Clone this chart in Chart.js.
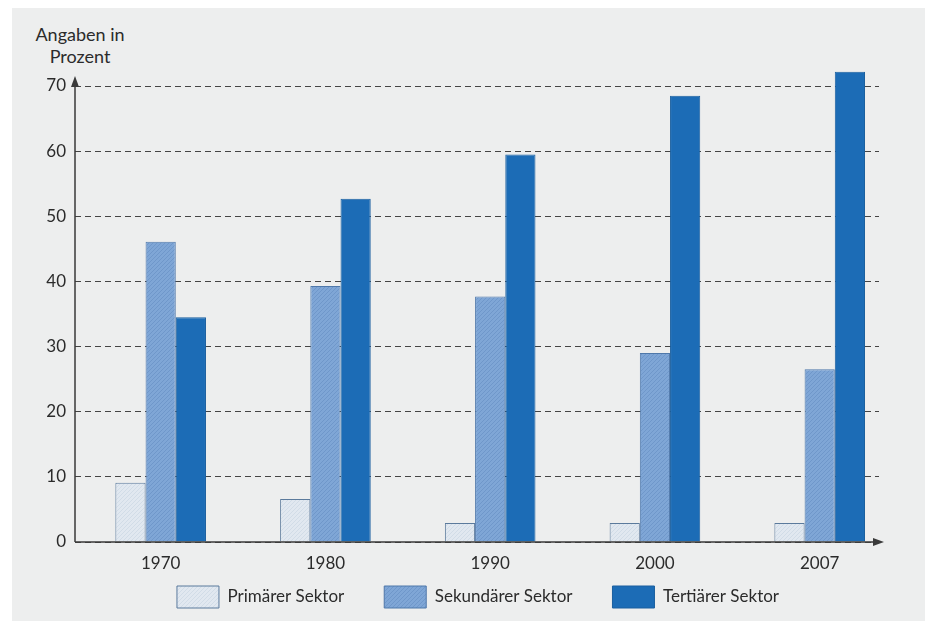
<!DOCTYPE html>
<html>
<head>
<meta charset="utf-8">
<script src="https://cdn.jsdelivr.net/npm/chart.js@4.4.1/dist/chart.umd.min.js"></script>
<style>
  html, body { margin: 0; padding: 0; background: #fff; overflow: hidden; }
  #wrap { position: relative; width: 925px; height: 621px; overflow: hidden; }
  #paper { position: absolute; left: 12px; top: 8px; right: 0; bottom: 0; background: #edeeee; }
  #ytitle { position: absolute; left: 25px; top: 23px; width: 110px; text-align: center;
            font: 18px Lato, sans-serif; color: #2b2b2b; line-height: 22px; }
  #c { position: absolute; left: 0; top: 0; }
</style>
</head>
<body>
<div id="wrap">
  <div id="paper"></div>
  <div id="ytitle">Angaben in<br>Prozent</div>
  <canvas id="c" width="925" height="621"></canvas>
</div>
<script>
// Daten
let years = ["1970", "1980", "1990", "2000", "2007"];
let primaer = [9.1, 6.6, 2.9, 2.9, 2.9];
let sekundaer = [46.1, 39.3, 37.7, 29.0, 26.5];
let tertiaer = [34.5, 52.7, 59.5, 68.5, 72.2];
let seriesNames = ["Primärer Sektor", "Sekundärer Sektor", "Tertiärer Sektor"];
let yTicks = [0, 10, 20, 30, 40, 50, 60, 70];

function hatch(base, line)
{
    let c = document.createElement("canvas");
    c.width = 4; c.height = 4;
    let x = c.getContext("2d");
    x.fillStyle = base;
    x.fillRect(0, 0, 4, 4);
    x.strokeStyle = line;
    x.lineWidth = 0.8;
    x.beginPath();
    x.moveTo(0, 4); x.lineTo(4, 0);
    x.stroke();
    return x.createPattern(c, "repeat");
}

function toPoints(vals)
{
    return vals.map(function (v, i) { return { x: i, y: v }; });
}

// Achsen mit Pfeilspitzen
let axisArrows = {
    id: "axisArrows",
    afterDraw: function (chart) {
        let ctx = chart.ctx;
        let a = chart.chartArea;
        let y0 = chart.scales.y.getPixelForValue(0);
        ctx.save();
        ctx.strokeStyle = "#3a3a3a";
        ctx.fillStyle = "#3a3a3a";
        ctx.lineWidth = 1.5;
        ctx.beginPath();
        ctx.moveTo(a.left, y0); ctx.lineTo(a.right - 2, y0);
        ctx.moveTo(a.left, y0); ctx.lineTo(a.left, a.top - 4);
        ctx.stroke();
        ctx.beginPath();
        ctx.moveTo(a.right + 5, y0); ctx.lineTo(a.right - 6, y0 - 4); ctx.lineTo(a.right - 6, y0 + 4);
        ctx.closePath(); ctx.fill();
        ctx.beginPath();
        ctx.moveTo(a.left, a.top - 10); ctx.lineTo(a.left - 4, a.top + 1); ctx.lineTo(a.left + 4, a.top + 1);
        ctx.closePath(); ctx.fill();
        ctx.restore();
    }
};

// Legende wie im Original etwas nach rechts und unten setzen
let legendPlace = {
    id: "legendPlace",
    afterLayout: function (chart) {
        let lg = chart.legend;
        let pad = lg.options.labels.padding;
        let dx = 478 - (lg.left + lg.right) / 2;
        lg.left += dx; lg.right += dx;
        lg.top = 586 - pad;
        lg.bottom = 621;
        lg.height = lg.bottom - lg.top;
    }
};

let font = { family: "Lato, sans-serif", size: 17 };

let xAC = document.getElementById("c");
new Chart(xAC, {
    type: "bar",
    data: {
        datasets: [{
            label: seriesNames[0],
            data: toPoints(primaer),
            backgroundColor: hatch("#e1e8f0", "#cdd8e5"),
            borderColor: "#5b7a9c",
            borderWidth: 1
        }, {
            label: seriesNames[1],
            data: toPoints(sekundaer),
            backgroundColor: hatch("#7fa6d6", "#6b93c6"),
            borderColor: "#4f78aa",
            borderWidth: 1
        }, {
            label: seriesNames[2],
            data: toPoints(tertiaer),
            backgroundColor: "#1c6cb6",
            borderColor: "#1a5f9f",
            borderWidth: 1,
            clip: false
        }]
    },
    options: {
        responsive: false,
        animation: false,
        devicePixelRatio: 1,
        categoryPercentage: 0.55,
        barPercentage: 1.0,
        layout: { padding: { left: 12, right: 46, top: 86, bottom: 0 } },
        scales: {
            x: {
                type: "linear",
                offset: false,
                min: -0.52,
                max: 4.36,
                grid: { display: false },
                border: { display: false },
                afterBuildTicks: function (s) {
                    s.ticks = years.map(function (_, i) { return { value: i }; });
                },
                afterFit: function (s) { s.height = 39; },
                ticks: {
                    autoSkip: false,
                    maxRotation: 0,
                    padding: 3,
                    color: "#2b2b2b",
                    font: font,
                    callback: function (v) { return years[v] !== undefined ? years[v] : ""; }
                }
            },
            y: {
                min: 0,
                max: 70,
                afterBuildTicks: function (s) {
                    s.ticks = yTicks.map(function (v) { return { value: v }; });
                },
                afterFit: function (s) { s.width = 63; },
                grid: {
                    color: "#444",
                    lineWidth: 1,
                    drawTicks: false
                },
                border: { display: false, dash: [6, 4] },
                ticks: {
                    padding: 9,
                    color: "#2b2b2b",
                    font: font
                }
            }
        },
        plugins: {
            legend: {
                position: "bottom",
                maxHeight: 40,
                labels: {
                    boxWidth: 42,
                    boxHeight: 22,
                    padding: 40,
                    color: "#2b2b2b",
                    font: font
                }
            },
            tooltip: { enabled: false }
        }
    },
    plugins: [axisArrows, legendPlace]
});
</script>
</body>
</html>
